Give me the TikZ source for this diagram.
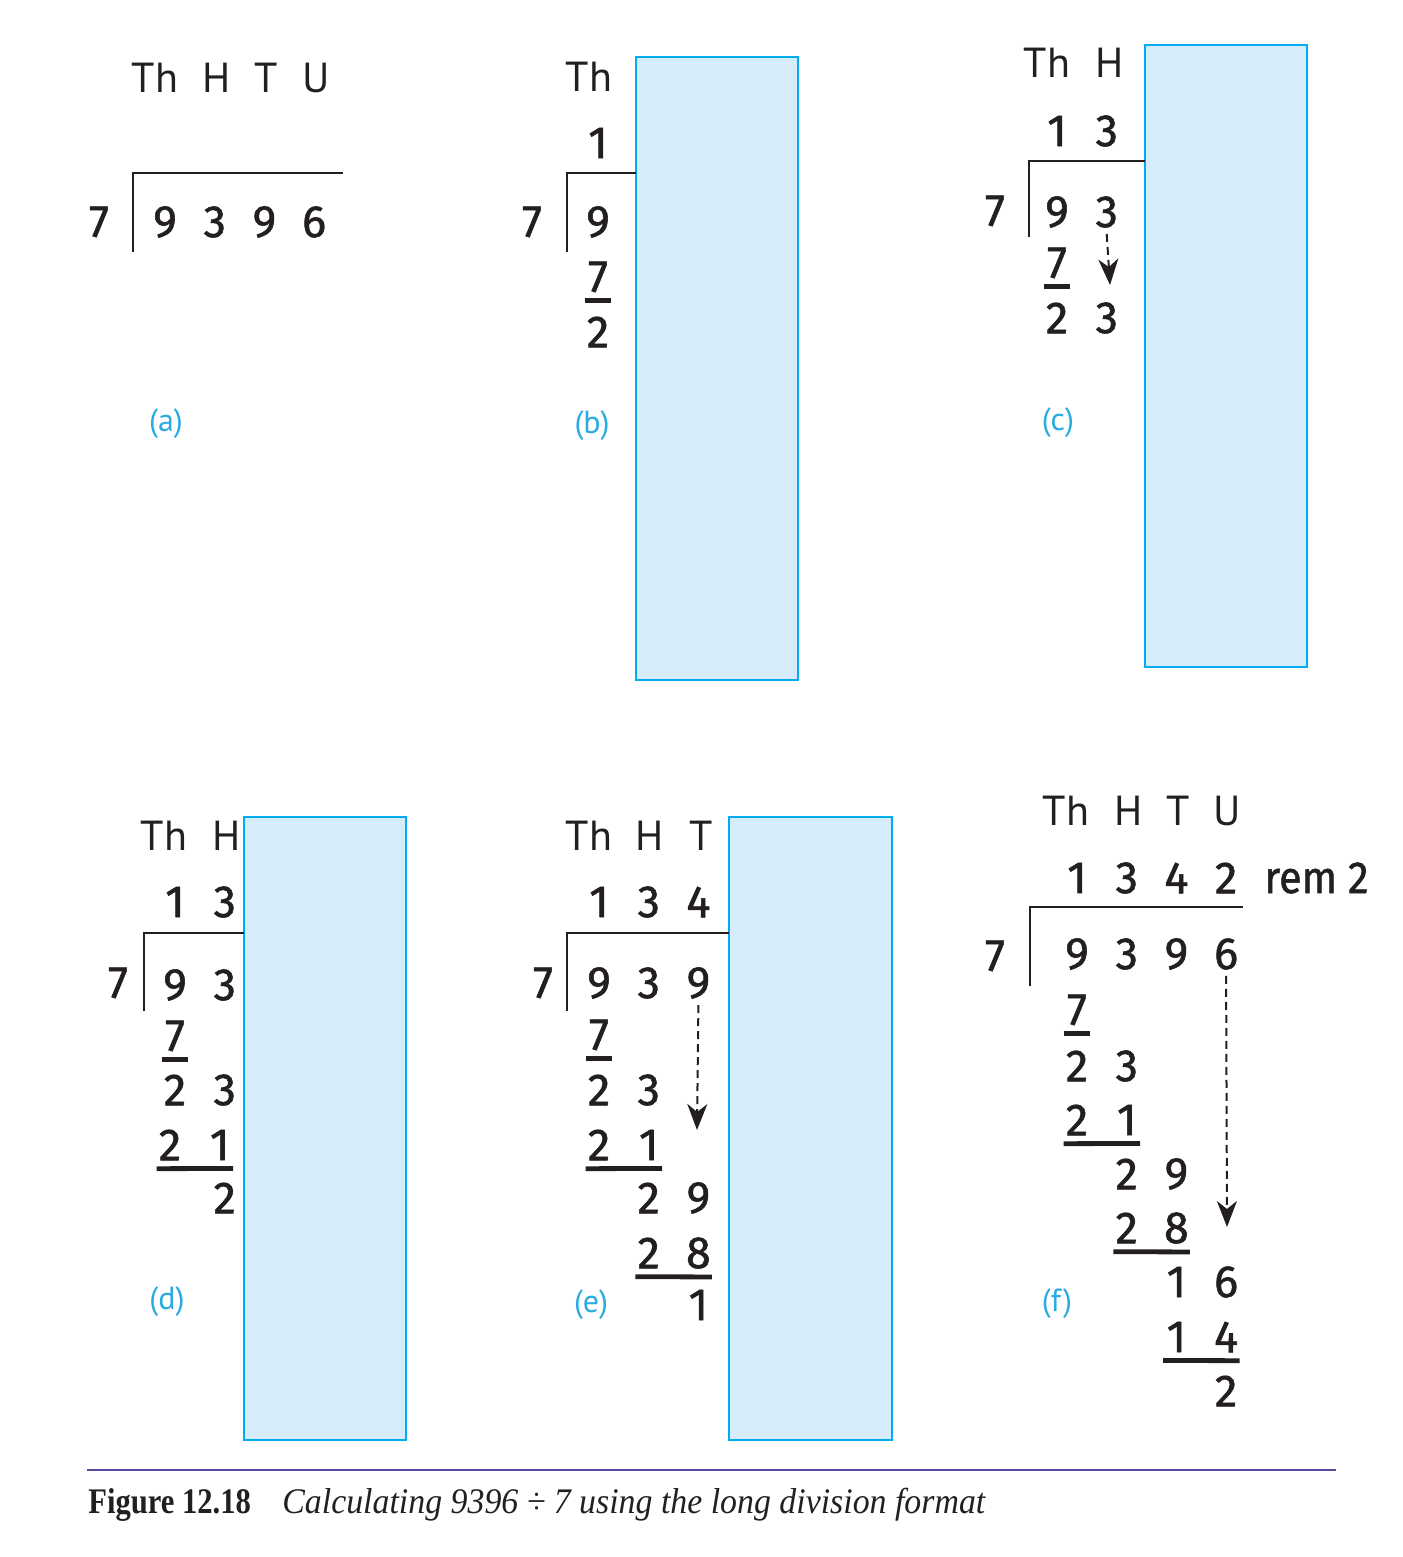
\documentclass[tikz,border=0pt]{standalone}
\usepackage{fontspec}
\usepackage{xcolor}
\usepackage{tikz}
\usetikzlibrary{arrows.meta,calc}
\setmainfont{Liberation Serif}
\newfontfamily\digitfont{Fira Sans}[FakeBold=1.2]
\newfontfamily\headfont{PT Sans}
\definecolor{inkblack}{RGB}{35,31,32}
\definecolor{boxblue}{RGB}{0,174,239}
\definecolor{boxfill}{RGB}{214,236,250}
\definecolor{labelblue}{RGB}{41,171,226}
\definecolor{rulepurple}{RGB}{90,72,165}
% one row of digits, first digit at (#2,#3), one column = 49.7
\newcommand{\digitrow}[4]{%
    \foreach \d [count=\k from 0] in {#4}
        \node[digit] (#1-\k) at (#2+\k*49.7, #3) {\d};
}
\tikzset{
    digit/.style={
        inner sep=0pt,
        minimum width=13pt,
        text=inkblack,
        font=\digitfont\fontsize{22.5}{24}\selectfont
    },
    colhead/.style={
        anchor=base,
        inner sep=0pt,
        text=inkblack,
        font=\headfont\fontsize{21}{24}\selectfont
    },
    tag/.style={
        inner sep=0pt,
        text=labelblue,
        font=\headfont\fontsize{16}{18}\selectfont
    },
    bracket/.style={draw=inkblack, line width=1pt},
    uline/.style={draw=inkblack, line width=2.4pt},
    carry/.style={
        draw=inkblack,
        line width=1pt,
        dash pattern=on 4pt off 2.5pt,
        -{Stealth[length=13pt, width=10pt, inset=4pt]}
    },
    panelbox/.style={draw=boxblue, fill=boxfill, line width=1pt},
}
\begin{document}
\begin{tikzpicture}[x=0.5pt, y=-0.5pt]
    \useasboundingbox (0,0) rectangle (1402,1557);

    % (a) the set-up
    \node[colhead] (a-th) at (155,93) {Th};
    \node[colhead] (a-h) at (217,93) {H};
    \node[colhead] (a-t) at (266,93) {T};
    \node[colhead] (a-u) at (316,93) {U};
    \node[digit] (a-div) at (99,222) {7};
    \digitrow{a-1}{165}{222}{9,3,9,6}
    \draw[bracket] (133,252) -- (133,173) -- (343,173);
    \node[tag] (a-tag) at (166,424) {(a)};

    % (b) thousands
    \draw[panelbox] (636,57) rectangle (798,680);
    \node[colhead] (b-th) at (589,92) {Th};
    \digitrow{b-0}{598}{143}{1}
    \node[digit] (b-div) at (532,222) {7};
    \digitrow{b-1}{598}{222}{9}
    \digitrow{b-2}{598}{277}{7}
    \digitrow{b-3}{598}{332}{2}
    \draw[uline] ([yshift=-4pt]b-2-0.south west) -- ([yshift=-4pt]b-2-0.south east);
    \draw[bracket] (567,252) -- (567,173) -- (636,173);
    \node[tag] (b-tag) at (592,426) {(b)};

    % (c) hundreds
    \draw[panelbox] (1145,45) rectangle (1307,667);
    \node[colhead] (c-th) at (1047,78) {Th};
    \node[colhead] (c-h) at (1110,78) {H};
    \digitrow{c-0}{1057}{131}{1,3}
    \node[digit] (c-div) at (995,211) {7};
    \digitrow{c-1}{1057}{212}{9,3}
    \digitrow{c-2}{1057}{263}{7}
    \digitrow{c-3}{1057}{318}{2,3}
    \draw[uline] ([yshift=-4pt]c-2-0.south west) -- ([yshift=-4pt]c-2-0.south east);
    \coordinate (c-tip) at (1110,285);
    \draw[carry] ([yshift=-3pt]c-1-1.south) -- (c-tip);
    \draw[bracket] (1029,237) -- (1029,161) -- (1145,161);
    \node[tag] (c-tag) at (1058,423) {(c)};

    % (d) hundreds, remainder 2
    \draw[panelbox] (244,817) rectangle (406,1440);
    \node[colhead] (d-th) at (164,850) {Th};
    \node[colhead] (d-h) at (227,850) {H};
    \digitrow{d-0}{175}{902}{1,3}
    \node[digit] (d-div) at (118,983) {7};
    \digitrow{d-1}{175}{985}{9,3}
    \digitrow{d-2}{175}{1036}{7}
    \digitrow{d-3}{175}{1090}{2,3}
    \digitrow{d-4}{170}{1145}{2,1}
    \digitrow{d-5}{224.7}{1198}{2}
    \draw[uline] ([yshift=-4pt]d-2-0.south west) -- ([yshift=-4pt]d-2-0.south east);
    \draw[uline] ([yshift=-4pt]d-4-0.south west) -- ([yshift=-4pt]d-4-1.south east);
    \draw[bracket] (144,1011) -- (144,933) -- (244,933);
    \node[tag] (d-tag) at (167,1302) {(d)};

    % (e) tens
    \draw[panelbox] (729,817) rectangle (892,1440);
    \node[colhead] (e-th) at (589,850) {Th};
    \node[colhead] (e-h) at (650,850) {H};
    \node[colhead] (e-t) at (701,850) {T};
    \digitrow{e-0}{599}{902}{1,3,4}
    \node[digit] (e-div) at (543,983) {7};
    \digitrow{e-1}{599}{983}{9,3,9}
    \digitrow{e-2}{599}{1035}{7}
    \digitrow{e-3}{599}{1090}{2,3}
    \digitrow{e-4}{599}{1145}{2,1}
    \digitrow{e-5}{648.7}{1198}{2,9}
    \digitrow{e-6}{648.7}{1253}{2,8}
    \digitrow{e-7}{698.4}{1305}{1}
    \draw[uline] ([yshift=-4pt]e-2-0.south west) -- ([yshift=-4pt]e-2-0.south east);
    \draw[uline] ([yshift=-4pt]e-4-0.south west) -- ([yshift=-4pt]e-4-1.south east);
    \draw[uline] ([yshift=-4pt]e-6-0.south west) -- ([yshift=-4pt]e-6-1.south east);
    \coordinate (e-tip) at (697,1130);
    \draw[carry] ([yshift=-3pt]e-1-2.south) -- (e-tip);
    \draw[bracket] (567,1011) -- (567,933) -- (729,933);
    \node[tag] (e-tag) at (591,1305) {(e)};

    % (f) units, the whole division
    \node[colhead] (f-th) at (1066,825) {Th};
    \node[colhead] (f-h) at (1129,825) {H};
    \node[colhead] (f-t) at (1178,825) {T};
    \node[colhead] (f-u) at (1227,825) {U};
    \digitrow{f-0}{1077}{878}{1,3,4,2}
    \node[digit, anchor=west, xscale=0.92] (f-rem) at (1264,878) {rem 2};
    \node[digit] (f-div) at (995,956) {7};
    \digitrow{f-1}{1077}{954}{9,3,9,6}
    \digitrow{f-2}{1077}{1010}{7}
    \digitrow{f-3}{1077}{1066}{2,3}
    \digitrow{f-4}{1077}{1120}{2,1}
    \digitrow{f-5}{1126.7}{1174}{2,9}
    \digitrow{f-6}{1126.7}{1228}{2,8}
    \digitrow{f-7}{1176.4}{1282}{1,6}
    \digitrow{f-8}{1176.4}{1337}{1,4}
    \digitrow{f-9}{1226.1}{1391}{2}
    \draw[uline] ([yshift=-4pt]f-2-0.south west) -- ([yshift=-4pt]f-2-0.south east);
    \draw[uline] ([yshift=-4pt]f-4-0.south west) -- ([yshift=-4pt]f-4-1.south east);
    \draw[uline] ([yshift=-4pt]f-6-0.south west) -- ([yshift=-4pt]f-6-1.south east);
    \draw[uline] ([yshift=-4pt]f-8-0.south west) -- ([yshift=-4pt]f-8-1.south east);
    \coordinate (f-tip) at (1227,1227);
    \draw[carry] ([yshift=-3pt]f-1-3.south) -- (f-tip);
    \draw[bracket] (1030,986) -- (1030,907) -- (1243,907);
    \node[tag] (f-tag) at (1057,1304) {(f)};

    % caption
    \draw[rulepurple, line width=1pt] (87,1470) -- (1336,1470);
    \node[anchor=base west, inner sep=0pt, xscale=0.85, text=inkblack,
      font=\fontsize{18}{20}\selectfont\bfseries] (fig-num) at (88,1513) {Figure 12.18};
    \node[anchor=base west, inner sep=0pt, xscale=0.94, text=inkblack,
      font=\fontsize{18}{20}\selectfont\itshape] (fig-text) at (282,1513)
      {Calculating 9396 ÷ 7 using the long division format};
\end{tikzpicture}
\end{document}
